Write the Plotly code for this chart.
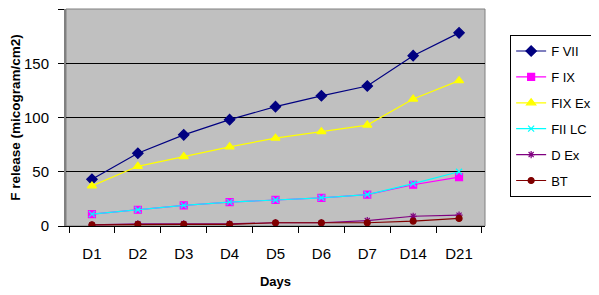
import plotly.graph_objects as go

days = ["D1", "D2", "D3", "D4", "D5", "D6", "D7", "D14", "D21"]
f_vii = [43, 67, 84, 98, 110, 120, 129, 157, 178]
f_ix = [11, 15, 19, 22, 24, 26, 29, 38, 45]
fix_ex = [37, 55, 64, 73, 81, 87, 93, 117, 134]
fii_lc = [11, 15, 19, 22, 24, 26, 29, 39, 50]
d_ex = [1, 2, 2, 2, 3, 3, 5, 9, 10]
bt = [1, 1.5, 1.5, 1.5, 3, 3, 3, 4.5, 7]

series = [
    ("F VII", f_vii, "#000080", "diamond", 8),
    ("F IX", f_ix, "#FF00FF", "square", 7),
    ("FIX Ex", fix_ex, "#FFFF00", "triangle-up", 8),
    ("FII LC", fii_lc, "#00FFFF", "x-thin", 6),
    ("D Ex", d_ex, "#800080", "asterisk", 6),
    ("BT", bt, "#800000", "circle", 6),
]

sans = "Liberation Sans, Arial, sans-serif"

fig = go.Figure()
for i, (name, vals, color, sym, size) in enumerate(series):
    fig.add_trace(go.Scatter(
        x=days, y=vals, name=name, mode="lines+markers",
        line=dict(color=color, width=1.2),
        marker=dict(symbol=sym, size=size, color=color,
                    line=dict(color=color, width=1.2)),
        legendgroup=f"g{i}",
    ))

# page body has an 8px default margin, so the figure is 8px smaller
fig.update_layout(
    width=591, height=287,
    margin=dict(l=58, r=114, t=1, b=69, autoexpand=False),
    paper_bgcolor="white",
    plot_bgcolor="#C0C0C0",
    font=dict(family=sans, size=12, color="black"),
    showlegend=True,
    legend=dict(
        x=1.06, y=0.88, xanchor="left", yanchor="top",
        bordercolor="black", borderwidth=1, bgcolor="white",
        font=dict(size=13, family=sans), tracegroupgap=6, traceorder="grouped",
        itemwidth=30,
    ),
)
fig.update_xaxes(
    type="category", tickson="boundaries", ticks="outside", ticklen=6,
    tickcolor="black", showline=True, linecolor="black", linewidth=1,
    showgrid=False, mirror=False, automargin=False,
    ticklabelstandoff=14,
    title=dict(text="<b>Days</b>", font=dict(size=13), standoff=15),
    tickfont=dict(size=15, family=sans),
)
fig.update_yaxes(
    range=[0, 200], dtick=50, ticks="outside", ticklen=6, tickcolor="black",
    showline=True, linecolor="#808080", linewidth=2, automargin=False,
    showgrid=True, gridcolor="black", gridwidth=1, zeroline=False,
    ticklabelstandoff=6,
    title=dict(text="<b>F release (micogram/cm2)</b>", font=dict(size=13.5), standoff=4),
    tickfont=dict(size=15, family=sans),
)
fig.add_shape(type="rect", xref="paper", yref="paper", x0=0, y0=0, x1=1, y1=1,
              line=dict(color="#808080", width=1), layer="below")

fig.write_html("out.html")
